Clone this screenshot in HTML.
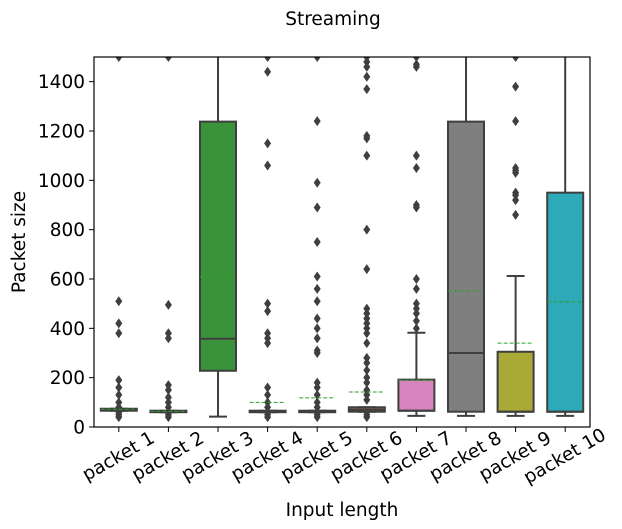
<!DOCTYPE html>
<html><head><meta charset="utf-8">
<style>
body{margin:0;background:#fff;}
svg{display:block;font-family:"DejaVu Sans","Liberation Sans",sans-serif;}
</style></head>
<body>
<svg id="chart" width="622" height="529" viewBox="0 0 622 529" xmlns="http://www.w3.org/2000/svg">
<text x="333" y="25" font-size="18.5" text-anchor="middle">Streaming</text>
<text transform="translate(25,242) rotate(-90)" font-size="18.5" text-anchor="middle">Packet size</text>
<text x="342" y="516" font-size="18.5" text-anchor="middle">Input length</text>
<g id="plot"></g>
</svg>
<script>
const categories=["packet 1","packet 2","packet 3","packet 4","packet 5","packet 6","packet 7","packet 8","packet 9","packet 10"];
const colors=["#3274a1","#e1812c","#3a923a","#c03d3e","#9372b2","#8c6155","#d684bd","#7f7f7f","#a9a938","#2ea9b8"];
const q1=[66,60,228,60,60,62,66,62,62,62];
const medians=[70,64,358,64,64,70,66,300,62,62];
const q3=[74,66,1238,66,66,80,192,1238,305,950];
const whiskLo=[66,60,42,60,60,62,45,45,45,45];
const whiskHi=[74,66,1600,66,66,80,382,1600,612,1600];
const means=[72,64,608,100,118,142,190,552,340,508];
const outliers=[
[1500,510,420,380,190,160,130,100,80,60,50,40],
[1500,495,380,360,170,150,120,100,80,50,40],
[],
[1500,1440,1150,1060,500,470,380,360,340,160,130,100,80,50,40],
[1500,1240,990,890,750,610,560,510,440,400,360,310,300,180,160,130,100,80,50,40],
[1500,1480,1460,1420,1370,1180,1170,1100,800,640,480,460,440,420,400,380,340,280,260,230,200,180,150,130,110,50,40],
[1500,1470,1460,1100,1050,900,890,600,560,500,480,460,430,400],
[],
[1500,1380,1240,1050,1040,1030,950,940,920,860],
[]];
const yTicks=[0,200,400,600,800,1000,1200,1400];

const L=94,R=590,T=57,B=427,YMAX=1500;
const y=v=>B-(v/YMAX)*(B-T);
const step=(R-L)/categories.length;
const x=i=>L+step*(i+0.5);
const bw=36;
const NS="http://www.w3.org/2000/svg";
const g=document.getElementById('plot');
function mk(tag,attrs,parent){const e=document.createElementNS(NS,tag);for(const k in attrs)e.setAttribute(k,attrs[k]);(parent||g).appendChild(e);return e;}
const defs=mk('defs',{});
const cp=mk('clipPath',{id:'clip'},defs);
mk('rect',{x:L,y:T,width:R-L,height:B-T},cp);
const inner=mk('g',{'clip-path':'url(#clip)'});
const dark="#3f3f3f";
const sw=2;
categories.forEach((c,i)=>{
  const cx=x(i);
  const grp=mk('g',{},inner);
  
  
  mk('line',{x1:cx,x2:cx,y1:y(q1[i]),y2:y(whiskLo[i]),stroke:dark,'stroke-width':sw},grp);
  mk('line',{x1:cx,x2:cx,y1:y(q3[i]),y2:y(whiskHi[i]),stroke:dark,'stroke-width':sw},grp);
  mk('line',{x1:cx-bw/4,x2:cx+bw/4,y1:y(whiskLo[i]),y2:y(whiskLo[i]),stroke:dark,'stroke-width':sw},grp);
  mk('line',{x1:cx-bw/4,x2:cx+bw/4,y1:y(whiskHi[i]),y2:y(whiskHi[i]),stroke:dark,'stroke-width':sw},grp);
  mk('rect',{x:cx-bw/2,y:y(q3[i]),width:bw,height:Math.max(y(q1[i])-y(q3[i]),0.5),fill:colors[i],stroke:dark,'stroke-width':sw},grp);
  mk('line',{x1:cx-bw/2,x2:cx+bw/2,y1:y(medians[i]),y2:y(medians[i]),stroke:dark,'stroke-width':sw},grp);
  outliers[i].forEach(v=>{
    const yy=y(v);
    const d=mk('path',{d:`M${cx},${yy-5} L${cx+3.5},${yy} L${cx},${yy+5} L${cx-3.5},${yy} Z`,fill:dark},grp);
    
    
  });
  const m=mk('line',{x1:cx-bw/2,x2:cx+bw/2,y1:y(means[i]),y2:y(means[i]),stroke:"#2ca02c",'stroke-width':1,'stroke-dasharray':'4,2'},grp);
  
  
  mk('line',{x1:cx,x2:cx,y1:B,y2:B+5,stroke:'#000','stroke-width':1});
  const t=mk('text',{transform:`translate(${cx},${B+30}) rotate(-30)`,'font-size':18.5,'text-anchor':'middle','dominant-baseline':'middle'});
  t.textContent=c;
  
  
});
yTicks.forEach(v=>{
  mk('line',{x1:L-5,x2:L,y1:y(v),y2:y(v),stroke:'#000','stroke-width':1});
  const t=mk('text',{x:L-9,y:y(v)+6.5,'font-size':18.5,'text-anchor':'end'});
  t.textContent=v;
  
  
});
const frame=mk('rect',{x:L,y:T,width:R-L,height:B-T,fill:'none',stroke:'#000','stroke-width':1.2});


</script>
</body></html>
